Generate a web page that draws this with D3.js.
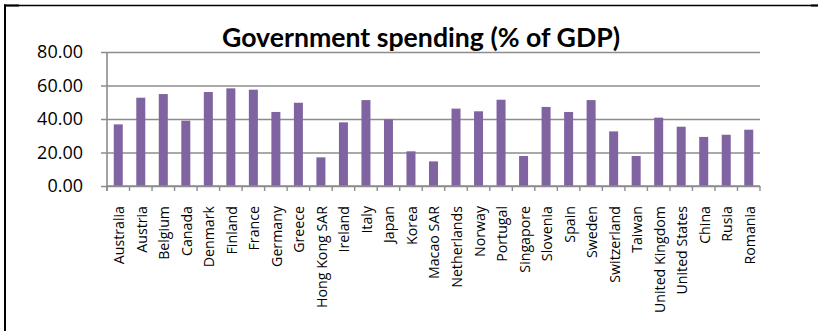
<!DOCTYPE html>
<html>
<head>
<meta charset="utf-8">
<script src="https://cdnjs.cloudflare.com/ajax/libs/d3/7.8.5/d3.min.js"></script>
<style>
  body { margin: 0; background: #fff; }
  svg { display: block; }
</style>
</head>
<body>
<script>
// chart values
const countries = ['Australia', 'Austria', 'Belgium', 'Canada', 'Denmark', 'Finland', 'France',
  'Germany', 'Greece', 'Hong Kong SAR', 'Ireland', 'Italy', 'Japan', 'Korea', 'Macao SAR',
  'Netherlands', 'Norway', 'Portugal', 'Singapore', 'Slovenia', 'Spain', 'Sweden', 'Switzerland',
  'Taiwan', 'United Kingdom', 'United States', 'China', 'Rusia', 'Romania'];
const spending = [36.8, 52.7, 54.9, 39.0, 56.1, 58.3, 57.5, 44.2, 49.7, 17.1, 38.0, 51.3, 39.8,
  20.7, 14.7, 46.2, 44.6, 51.5, 17.9, 47.2, 44.2, 51.3, 32.6, 17.9, 40.8, 35.4, 29.3, 30.6, 33.6];
const yTicks = [0, 20, 40, 60, 80];
const title = 'Government spending (% of GDP)';

const W = 818, H = 331;
const plot = {left: 107, right: 760, top: 52, bottom: 186};
const gridColor = '#8c8c8c';

const svg = d3.select('body').append('svg')
  .attr('width', W)
  .attr('height', H);

svg.append('rect').attr('width', W).attr('height', H).attr('fill', '#fff');

// outer frame (cropped at right and bottom)
svg.append('line').attr('x1', 4).attr('x2', W).attr('y1', 5.5).attr('y2', 5.5)
  .attr('stroke', '#000').attr('stroke-width', 1.3);
svg.append('line').attr('x1', 4).attr('x2', 19).attr('y1', 5.5).attr('y2', 5.5)
  .attr('stroke', '#000').attr('stroke-width', 2);
svg.append('line').attr('x1', 811).attr('x2', W).attr('y1', 5.5).attr('y2', 5.5)
  .attr('stroke', '#000').attr('stroke-width', 2);
svg.append('line').attr('x1', 5).attr('x2', 5).attr('y1', 4.5).attr('y2', H)
  .attr('stroke', '#000').attr('stroke-width', 2);

const x = d3.scaleBand()
  .domain(countries)
  .range([plot.left, plot.right])
  .paddingInner(0.6)
  .paddingOuter(0.3);

const y = d3.scaleLinear()
  .domain([0, 80])
  .range([plot.bottom, plot.top]);

// gridlines + y axis
const yAxis = d3.axisLeft(y)
  .tickValues(yTicks)
  .tickSize(-(plot.right - plot.left))
  .tickPadding(24)
  .tickFormat(d3.format('.2f'));

const gy = svg.append('g')
  .attr('transform', 'translate(' + plot.left + ',0)')
  .call(yAxis);
gy.select('.domain').remove();
gy.selectAll('.tick line')
  .attr('x1', -6)
  .attr('stroke', gridColor)
  .attr('stroke-width', 1.6);
gy.selectAll('.tick text')
  .attr('font-family', 'Open Sans, sans-serif')
  .attr('font-size', 18)
  .attr('fill', '#000');

svg.append('line')
  .attr('x1', plot.left).attr('x2', plot.left)
  .attr('y1', plot.top).attr('y2', plot.bottom + 5)
  .attr('stroke', gridColor).attr('stroke-width', 1.6);

// bars
svg.append('g').selectAll('rect')
  .data(spending)
  .join('rect')
  .attr('x', (d, i) => x(countries[i]))
  .attr('y', d => y(d))
  .attr('width', x.bandwidth())
  .attr('height', d => y(0) - y(d))
  .attr('fill', '#8064a2');

// x axis with ticks between categories
const step = x.step();
const bounds = d3.range(countries.length + 1).map(i => plot.left + i * step);
svg.append('line')
  .attr('x1', plot.left).attr('x2', plot.right)
  .attr('y1', plot.bottom).attr('y2', plot.bottom)
  .attr('stroke', gridColor).attr('stroke-width', 1.6);
svg.append('g').selectAll('line')
  .data(bounds)
  .join('line')
  .attr('x1', d => d).attr('x2', d => d)
  .attr('y1', plot.bottom).attr('y2', plot.bottom + 5)
  .attr('stroke', gridColor).attr('stroke-width', 1.4);

svg.append('g').selectAll('text')
  .data(countries)
  .join('text')
  .attr('transform', d => 'translate(' + (x(d) + x.bandwidth() / 2 + 1) + ',' + 206 + ') rotate(-90)')
  .attr('dy', '0.35em')
  .attr('text-anchor', 'end')
  .attr('font-family', 'Open Sans, sans-serif')
  .attr('font-size', 14.2)
  .attr('fill', '#000')
  .text(d => d);

// title
svg.append('text')
  .attr('x', 421)
  .attr('y', 46.5)
  .attr('text-anchor', 'middle')
  .attr('font-family', 'Lato, sans-serif')
  .attr('font-weight', 'bold')
  .attr('font-size', 26.5)
  .attr('textLength', 398)
  .attr('lengthAdjust', 'spacingAndGlyphs')
  .attr('fill', '#000')
  .text(title);
</script>
</body>
</html>
